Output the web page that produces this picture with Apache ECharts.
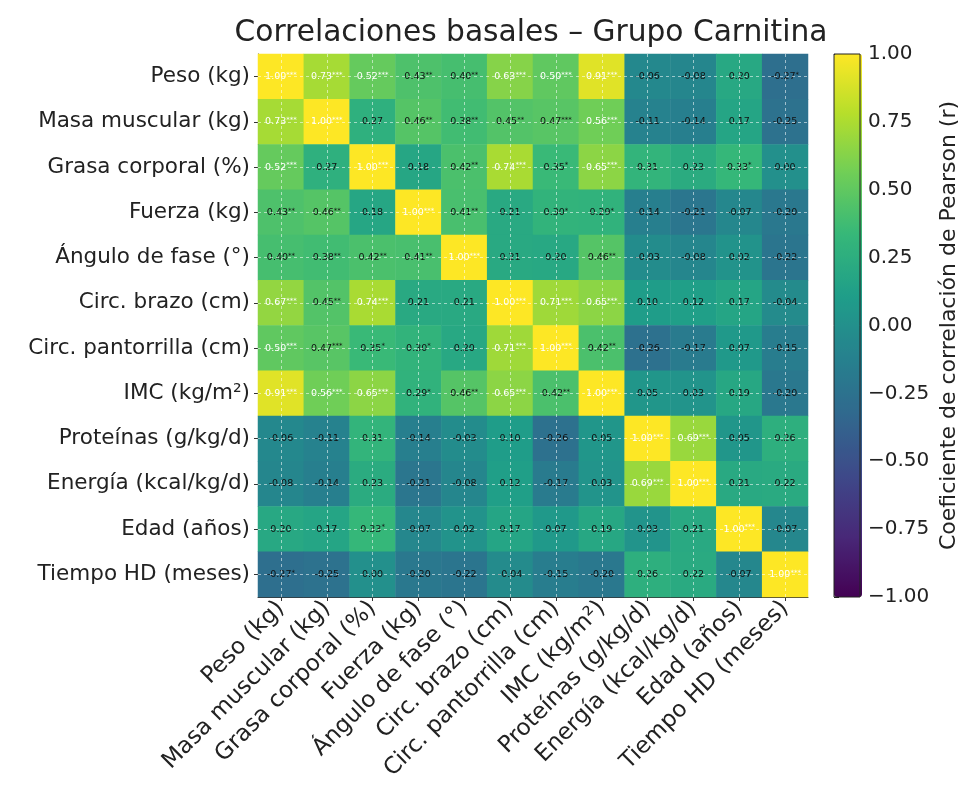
<!DOCTYPE html>
<html>
<head>
<meta charset="utf-8">
<script src="https://cdn.jsdelivr.net/npm/echarts@6/dist/echarts.min.js"></script>
<style>
  html, body { margin: 0; padding: 0; background: #fff; }
  #chart { width: 961px; height: 789px; }
</style>
</head>
<body>
<div id="chart"></div>
<script>
// variables (same order on both axes)
const variables = [
  'Peso (kg)', 'Masa muscular (kg)', 'Grasa corporal (%)', 'Fuerza (kg)',
  'Ángulo de fase (°)', 'Circ. brazo (cm)', 'Circ. pantorrilla (cm)', 'IMC (kg/m²)',
  'Proteínas (g/kg/d)', 'Energía (kcal/kg/d)', 'Edad (años)', 'Tiempo HD (meses)'
];

// Pearson r, one row per variable
const corr = [
  [1.00, 0.73, 0.52, 0.43, 0.40, 0.63, 0.50, 0.91, -0.06, -0.08, 0.20, -0.27],
  [0.73, 1.00, 0.27, 0.46, 0.38, 0.45, 0.47, 0.56, -0.11, -0.14, 0.17, -0.25],
  [0.52, 0.27, 1.00, 0.18, 0.42, 0.74, 0.35, 0.65, 0.31, 0.23, 0.33, 0.00],
  [0.43, 0.46, 0.18, 1.00, 0.41, 0.21, 0.30, 0.29, -0.14, -0.21, -0.07, -0.20],
  [0.40, 0.38, 0.42, 0.41, 1.00, 0.21, 0.20, 0.46, -0.03, -0.08, 0.02, -0.22],
  [0.67, 0.45, 0.74, 0.21, 0.21, 1.00, 0.71, 0.65, 0.10, 0.12, 0.17, -0.04],
  [0.50, 0.47, 0.35, 0.30, 0.20, 0.71, 1.00, 0.42, -0.26, -0.17, 0.07, -0.15],
  [0.91, 0.56, 0.65, 0.29, 0.46, 0.65, 0.42, 1.00, 0.05, 0.03, 0.19, -0.20],
  [-0.06, -0.11, 0.31, -0.14, -0.03, 0.10, -0.26, 0.05, 1.00, 0.69, 0.05, 0.26],
  [-0.08, -0.14, 0.23, -0.21, -0.08, 0.12, -0.17, 0.03, 0.69, 1.00, 0.21, 0.22],
  [0.20, 0.17, 0.33, -0.07, 0.02, 0.17, 0.07, 0.19, 0.03, 0.21, 1.00, -0.07],
  [-0.27, -0.25, 0.00, -0.20, -0.22, -0.04, -0.15, -0.20, 0.26, 0.22, -0.07, 1.00]
];

// significance stars (number of *)
const stars = [
  [3, 3, 3, 2, 2, 3, 3, 3, 0, 0, 0, 1],
  [3, 3, 0, 2, 2, 2, 3, 3, 0, 0, 0, 0],
  [3, 0, 3, 0, 2, 3, 1, 3, 0, 0, 1, 0],
  [2, 2, 0, 3, 2, 0, 1, 1, 0, 0, 0, 0],
  [2, 2, 2, 2, 3, 0, 0, 2, 0, 0, 0, 0],
  [3, 2, 3, 0, 0, 3, 3, 3, 0, 0, 0, 0],
  [3, 3, 1, 1, 0, 3, 3, 2, 0, 0, 0, 0],
  [3, 3, 3, 1, 2, 3, 2, 3, 0, 0, 0, 0],
  [0, 0, 0, 0, 0, 0, 0, 0, 3, 3, 0, 0],
  [0, 0, 0, 0, 0, 0, 0, 0, 3, 3, 0, 0],
  [0, 0, 1, 0, 0, 0, 0, 0, 0, 0, 3, 0],
  [1, 0, 0, 0, 0, 0, 0, 0, 0, 0, 0, 3]
];

const viridis = ['#440154', '#482878', '#3e4989', '#31688e', '#26828e',
                 '#1f9e89', '#35b779', '#6ece58', '#b5de2b', '#fde725'];

const cells = [];
corr.forEach((row, y) => {
  row.forEach((v, x) => cells.push([x, y, v, stars[y][x]]));
});

const font = 'DejaVu Sans';
const chart = echarts.init(document.getElementById('chart'));

chart.setOption({
  backgroundColor: '#fff',
  animation: false,
  title: {
    text: 'Correlaciones basales – Grupo Carnitina',
    left: 526,
    top: 13,
    textAlign: 'center',
    textStyle: { fontFamily: font, fontSize: 29.7, fontWeight: 'normal', color: '#222' }
  },
  grid: [
    { left: 258, top: 54, width: 550, height: 543 },
    { left: 834, top: 54, width: 28, height: 543, show: true,
      borderColor: '#222', borderWidth: 1, backgroundColor: 'transparent', z: 5 }
  ],
  xAxis: [
    {
      type: 'category', gridIndex: 0, data: variables,
      axisLine: { show: true, lineStyle: { color: '#333' } },
      axisTick: { show: true, alignWithLabel: true, length: 4, lineStyle: { color: '#333' } },
      splitLine: { show: false },
      axisLabel: { rotate: 45, interval: 0, margin: 8, fontFamily: font, fontSize: 23, color: '#222' }
    },
    { type: 'value', gridIndex: 1, show: false, min: 0, max: 1 }
  ],
  yAxis: [
    {
      type: 'category', gridIndex: 0, data: variables, inverse: true,
      axisLine: { show: true, lineStyle: { color: '#333' } },
      axisTick: { show: true, alignWithLabel: true, length: 4, lineStyle: { color: '#333' } },
      splitLine: { show: false },
      axisLabel: { interval: 0, margin: 8, fontFamily: font, fontSize: 21.5, color: '#222' }
    },
    {
      type: 'value', gridIndex: 1, position: 'right', min: -1, max: 1, interval: 0.25,
      axisLine: { show: false },
      axisTick: { show: true, length: 5, lineStyle: { color: '#222' } },
      splitLine: { show: false },
      axisLabel: {
        margin: 8, fontFamily: font, fontSize: 20, color: '#222',
        formatter: v => (v < 0 ? '\u2212' : '') + Math.abs(v).toFixed(2)
      },
      name: 'Coeficiente de correlación de Pearson (r)',
      nameLocation: 'middle',
      nameRotate: 90,
      nameGap: 78,
      nameTextStyle: { fontFamily: font, fontSize: 22, color: '#222' }
    }
  ],
  visualMap: {
    type: 'continuous',
    min: -1, max: 1,
    seriesIndex: 0,
    dimension: 2,
    calculable: false,
    left: 834, top: 54,
    itemWidth: 28, itemHeight: 543,
    padding: 0,
    text: null,
    showLabel: false,
    hoverLink: false,
    inRange: { color: viridis }
  },
  series: [{
    type: 'heatmap',
    xAxisIndex: 0, yAxisIndex: 0,
    data: cells,
    encode: { x: 0, y: 1, value: 2 },
    emphasis: { disabled: true },
    label: {
      show: true,
      formatter: p => {
        const v = p.value[2];
        const s = '*'.repeat(p.value[3]);
        const t = v >= 0.5 ? 'w' : 'k';
        return '{' + t + '|' + v.toFixed(2) + '}' + (s ? '{' + t + 's|' + s + '}' : '');
      },
      rich: {
        w: { color: '#fff', fontFamily: font, fontSize: 9.5 },
        k: { color: '#111', fontFamily: font, fontSize: 9.5 },
        ws: { color: '#fff', fontFamily: font, fontSize: 7, verticalAlign: 'top', padding: [0, 0, 3, 0] },
        ks: { color: '#111', fontFamily: font, fontSize: 7, verticalAlign: 'top', padding: [0, 0, 3, 0] }
      }
    },
    markLine: {
      silent: true,
      symbol: ['none', 'none'],
      label: { show: false },
      lineStyle: { color: 'rgba(255,255,255,0.55)', type: [3, 3], width: 1 },
      data: variables.map(v => ({ xAxis: v })).concat(variables.map(v => ({ yAxis: v })))
    }
  }]
});
</script>
</body>
</html>
